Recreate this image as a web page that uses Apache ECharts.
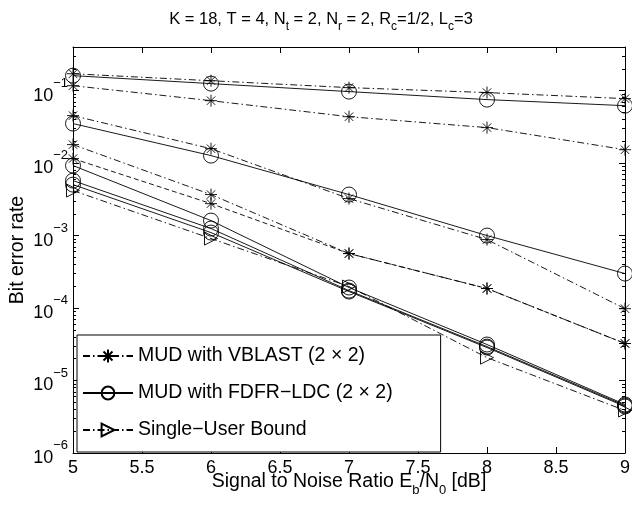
<!DOCTYPE html>
<html style="height: 100%">
<head>
   <meta charset="utf-8">
</head>
<style>
    body, html, #chart {
        width: 100%;
        height: 100%;
        margin: 0;
        background: #fff;
    }
</style>
<title>BER</title>
<script src="https://cdn.jsdelivr.net/npm/echarts@6/dist/echarts.min.js"></script>
<body>
   <div id="chart"></div>
   <script type="text/javascript">
    // SNR points (dB)
    var snr = [5, 6, 7, 8, 9];
    // MUD with VBLAST curves
    var vblast1 = [0.171, 0.137, 0.110, 0.094, 0.0776];
    var vblast2 = [0.117, 0.0727, 0.0437, 0.0309, 0.0153];
    var vblast3 = [0.0452, 0.0158, 0.00324, 0.00088, 0.000098];
    var vblast4 = [0.018, 0.00368, 0.000565, 0.000186, 0.0000324];
    var vblast5 = [0.01154, 0.00276, 0.000565, 0.000186, 0.0000324];
    // MUD with FDFR-LDC curves
    var fdfr1 = [0.161, 0.125, 0.097, 0.0752, 0.062];
    var fdfr2 = [0.0351, 0.0127, 0.00368, 0.001, 0.000299];
    var fdfr3 = [0.00925, 0.00161, 0.000192, 0.0000314, 0.00000467];
    var fdfr4 = [0.00574, 0.00125, 0.000174, 0.0000294, 0.00000452];
    var fdfr5 = [0.00505, 0.0011, 0.000169, 0.0000285, 0.00000438];
    // single user bound
    var single = [0.00418, 0.00091, 0.000198, 0.0000207, 0.00000386];

    var xTicks = [5, 5.5, 6, 6.5, 7, 7.5, 8, 8.5, 9];
    var yMajor = [1e-6, 1e-5, 1e-4, 1e-3, 1e-2, 1e-1];
    var yMinor = [];
    yMajor.forEach(function (d) {
        for (var k = 2; k <= 9; k++) {
            var v = k * d;
            if (v <= 0.4) yMinor.push(v);
        }
    });

    var nameV = 'MUD with VBLAST (2 \u00d7 2)';
    var nameF = 'MUD with FDFR\u2212LDC (2 \u00d7 2)';
    var nameS = 'Single\u2212User Bound';

    var star = 'path://M0,-6L0,6M-6,0L6,0M-4.2,-4.2L4.2,4.2M-4.2,4.2L4.2,-4.2';
    var tri = 'path://M0,0L10,6L0,12Z';
    var dashDot = [7, 3, 1.5, 3];

    function mk(name, arr, symbol, size, dash) {
        return {
            name: name,
            type: 'line',
            data: snr.map(function (x, i) { return [x, arr[i]]; }),
            symbol: symbol,
            symbolSize: size,
            showAllSymbol: true,
            lineStyle: { color: '#000', width: 0.9, type: dash },
            itemStyle: { color: 'rgba(0,0,0,0)', borderColor: '#000', borderWidth: 0.9 },
            emphasis: { disabled: true },
            animation: false,
            z: 3
        };
    }

    var series = [
        mk(nameV, vblast1, star, 12, dashDot),
        mk(nameF, fdfr1, 'circle', 15, 'solid'),
        mk(nameS, single, tri, 13, dashDot),
        mk(nameV, vblast2, star, 12, dashDot),
        mk(nameV, vblast3, star, 12, dashDot),
        mk(nameV, vblast4, star, 12, dashDot),
        mk(nameV, vblast5, star, 12, [5, 3]),
        mk(nameF, fdfr2, 'circle', 15, 'solid'),
        mk(nameF, fdfr3, 'circle', 15, 'solid'),
        mk(nameF, fdfr4, 'circle', 15, 'solid'),
        mk(nameF, fdfr5, 'circle', 15, 'solid')
    ];

    var font = 'Liberation Sans, Arial, Helvetica, sans-serif';

    function yAx(pos, ticks, len, labels) {
        return {
            type: 'log',
            position: pos,
            min: 1e-6,
            max: 0.4,
            axisLine: { show: labels, lineStyle: { color: '#000', width: 1 } },
            axisTick: { show: true, inside: true, length: len, customValues: ticks,
                        lineStyle: { color: '#000', width: 1 } },
            axisLabel: {
                show: labels && pos === 'left',
                customValues: yMajor,
                margin: 5,
                formatter: function (v) {
                    var e = Math.round(Math.log10(v));
                    return '{b|10}{e|\u2212' + Math.abs(e) + '}';
                },
                rich: {
                    b: { fontSize: 18, fontFamily: font, color: '#000', verticalAlign: 'bottom', lineHeight: 28 },
                    e: { fontSize: 13, fontFamily: font, color: '#000', verticalAlign: 'top', lineHeight: 28 }
                }
            },
            splitLine: { show: false },
            name: (labels && pos === 'left') ? 'Bit error rate' : '',
            nameLocation: 'middle',
            nameGap: 45,
            nameMoveOverlap: false,
            nameRotate: 90,
            nameTextStyle: { fontSize: 19.5, fontFamily: font, color: '#000' }
        };
    }

    var option = {
        backgroundColor: '#fff',
        animation: false,
        title: {
            text: '{n|K = 18, T = 4, N}{s|t}{n| = 2, N}{s|r}{n| = 2, R}{s|c}{n|=1/2, L}{s|c}{n|=3}',
            left: 316,
            textAlign: 'center',
            top: 6,
            textStyle: {
                fontWeight: 'normal',
                rich: {
                    n: { fontSize: 16.5, fontWeight: 'normal', fontFamily: font, color: '#000', verticalAlign: 'top', lineHeight: 22 },
                    s: { fontSize: 12, fontWeight: 'normal', fontFamily: font, color: '#000', verticalAlign: 'bottom', lineHeight: 22 }
                }
            }
        },
        grid: { left: 73, right: 7, top: 47, bottom: 55, containLabel: false, outerBoundsMode: 'none' },
        legend: {
            data: [nameV, nameF, nameS],
            orient: 'vertical',
            left: 77,
            top: 335,
            itemWidth: 50,
            itemHeight: 16,
            itemGap: 17,
            padding: [11, 48, 12, 5],
            backgroundColor: '#fff',
            borderColor: '#000',
            borderWidth: 1,
            borderRadius: 0,
            selectedMode: false,
            textStyle: { fontSize: 19.5, lineHeight: 20, fontFamily: font, color: '#000' }
        },
        xAxis: [{
            type: 'value',
            min: 5,
            max: 9,
            interval: 0.5,
            position: 'bottom',
            axisLine: { lineStyle: { color: '#000', width: 1 } },
            axisTick: { inside: true, length: 6, lineStyle: { color: '#000' } },
            axisLabel: { fontSize: 18, fontFamily: font, color: '#000', margin: 6,
                         customValues: xTicks },
            splitLine: { show: false },
            name: '{n|Signal to Noise Ratio E}{s|b}{n|/N}{s|0}{n| [dB]}',
            nameLocation: 'middle',
            nameGap: 19,
            nameMoveOverlap: false,
            nameTextStyle: {
                rich: {
                    n: { fontSize: 19.5, fontFamily: font, color: '#000', verticalAlign: 'top', lineHeight: 25 },
                    s: { fontSize: 13, fontFamily: font, color: '#000', verticalAlign: 'bottom', lineHeight: 25 }
                }
            }
        }, {
            type: 'value',
            min: 5,
            max: 9,
            interval: 0.5,
            position: 'top',
            axisLine: { lineStyle: { color: '#000', width: 1 } },
            axisTick: { inside: true, length: 6, lineStyle: { color: '#000' } },
            axisLabel: { show: false },
            splitLine: { show: false }
        }],
        yAxis: [
            yAx('left', yMajor, 6, true),
            yAx('left', yMinor, 3, false),
            yAx('right', yMajor, 6, true),
            yAx('right', yMinor, 3, false)
        ],
        series: series
    };

    var myChart = echarts.init(document.getElementById('chart'));
    myChart.setOption(option);
   </script>
</body>
</html>
